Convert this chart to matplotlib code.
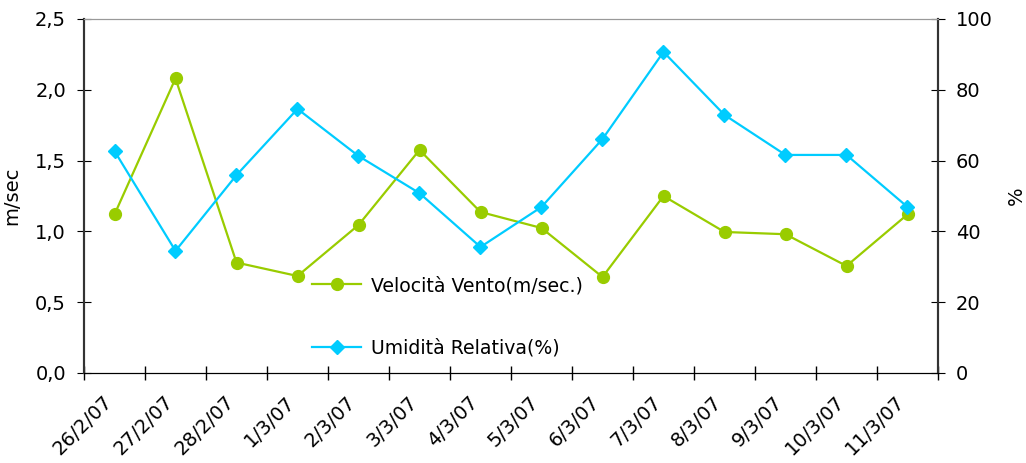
import matplotlib.pyplot as plt
import numpy as np

plt.rcParams['font.family'] = ['DejaVu Sans']

dates = ["26/2/07", "27/2/07", "28/2/07", "1/3/07", "2/3/07", "3/3/07", "4/3/07",
         "5/3/07", "6/3/07", "7/3/07", "8/3/07", "9/3/07", "10/3/07", "11/3/07"]
vento = [1.12, 2.08, 0.78, 0.685, 1.045, 1.575, 1.137, 1.024, 0.678, 1.25, 0.996, 0.98, 0.756, 1.12]
umidita = [62.7, 34.5, 55.9, 74.6, 61.3, 50.8, 35.6, 46.9, 66.1, 90.7, 72.9, 61.6, 61.6, 46.9]

green = "#99CC00"
blue = "#00CCFF"
fs = 14

fig = plt.figure(figsize=(10.26, 4.63), dpi=100)
ax = fig.add_axes([84/1026, 1-373/463, (938-84)/1026, (373-19)/463])
ax2 = ax.twinx()

x = np.arange(len(dates)) + 0.5
l1, = ax.plot(x, vento, '-o', color=green, lw=1.6, ms=8.5, label="Velocità Vento(m/sec.)")
l2, = ax2.plot(x, umidita, '-D', color=blue, lw=1.6, ms=7.5, label="Umidità Relativa(%)")

ax.set_xlim(0, len(dates))
ax.set_ylim(0, 2.5)
ax2.set_ylim(0, 100)

ax.set_yticks(np.arange(0, 2.51, 0.5))
ax.set_yticklabels([f"{v:.1f}".replace(".", ",") for v in np.arange(0, 2.51, 0.5)])
ax2.set_yticks(range(0, 101, 20))

# labels sit a little left of the category centre, as in the original
ax.set_xticks(x - 0.2)
ax.set_xticklabels(dates, rotation=45, ha='right', rotation_mode='anchor')
ax.set_xticks(np.arange(0, len(dates) + 1), minor=True)
ax.tick_params(axis='x', which='major', length=0, pad=14, labelsize=fs)
ax.tick_params(axis='x', which='minor', length=10, direction='inout', width=1)
ax.tick_params(axis='y', length=10, direction='inout', labelsize=fs, pad=8)
ax2.tick_params(axis='y', length=10, direction='inout', labelsize=fs, pad=8)

ax.set_ylabel("m/sec", fontsize=fs, labelpad=10)
ax2.set_ylabel("%", fontsize=fs, labelpad=10)

for a in (ax, ax2):
    a.spines['top'].set_color('#999999')
    a.spines['left'].set_color('#333333')
    a.spines['right'].set_color('#333333')
    a.spines['bottom'].set_color('black')
    a.spines['left'].set_linewidth(1.5)
    a.spines['right'].set_linewidth(1.5)

ax2.legend([l1, l2], [l1.get_label(), l2.get_label()], loc='upper left',
           bbox_to_anchor=(295/1026, 1-259/463), bbox_transform=fig.transFigure,
           frameon=False, fontsize=13.6, labelspacing=2.3, handlelength=2.6,
           handletextpad=0.5)

fig.savefig("out.png", dpi=100)
